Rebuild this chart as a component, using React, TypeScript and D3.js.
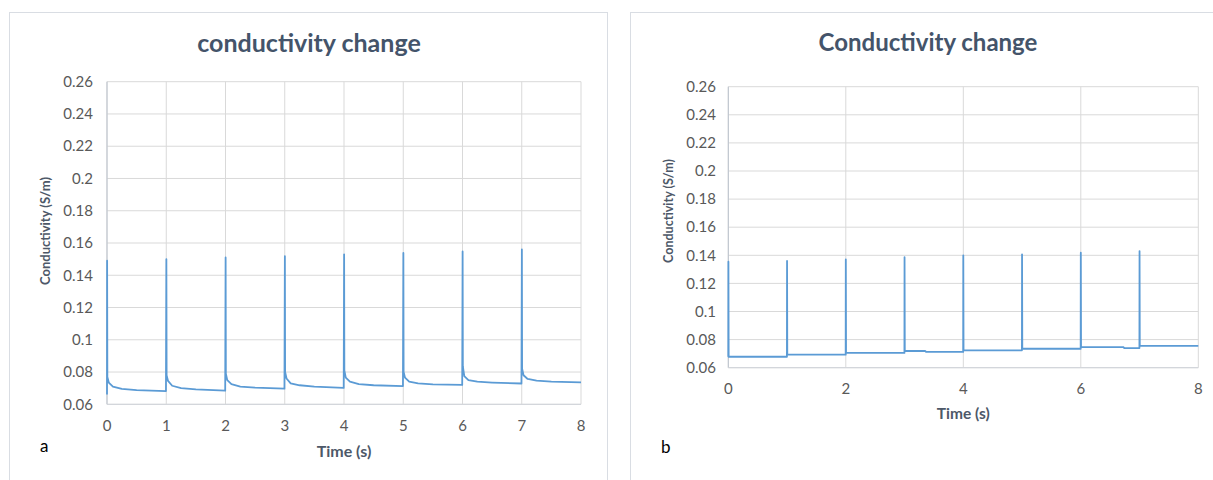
import React from "react";
import * as d3 from "d3";

// ---------- DATA ----------
// Panel a: spike times, peak values, and post-spike decay values
const spikeTimesA = [0, 1, 2, 3, 4, 5, 6, 7];
const peakValuesA = [0.149, 0.150, 0.151, 0.1518, 0.153, 0.1538, 0.1548, 0.156];
const startValueA = 0.066;
// offsets (s) after each spike at which decay values were read
const decayOffsetsA = [0.006, 0.03, 0.1, 0.25, 0.5, 0.995];
const decayValuesA = [
  [0.077, 0.0735, 0.071, 0.0695, 0.0688, 0.0682],
  [0.078, 0.0745, 0.0715, 0.07, 0.0693, 0.0685],
  [0.079, 0.075, 0.0725, 0.071, 0.0703, 0.0697],
  [0.08, 0.076, 0.073, 0.0718, 0.071, 0.0702],
  [0.081, 0.0765, 0.074, 0.0725, 0.0718, 0.0713],
  [0.08, 0.0765, 0.074, 0.073, 0.0724, 0.072],
  [0.0835, 0.0775, 0.075, 0.074, 0.0735, 0.0729],
  [0.082, 0.078, 0.0757, 0.0747, 0.0741, 0.0736],
];

// Panel b: step-like signal, explicit points [time, value]
const seriesB: [number, number][] = [
  [0, 0.0678], [0.002, 0.1354], [0.006, 0.0678],
  [0.998, 0.0678], [1.0, 0.136], [1.004, 0.0693],
  [1.998, 0.0693], [2.0, 0.137], [2.004, 0.0705],
  [2.998, 0.0705], [3.0, 0.1386], [3.004, 0.0719], [3.35, 0.0719], [3.37, 0.0712],
  [3.998, 0.0712], [4.0, 0.14], [4.004, 0.0724],
  [4.998, 0.0724], [5.0, 0.1407], [5.004, 0.0735],
  [5.998, 0.0735], [6.0, 0.1419], [6.004, 0.0747], [6.72, 0.0747], [6.74, 0.074],
  [6.998, 0.074], [7.0, 0.143], [7.004, 0.0755],
  [8.0, 0.0755],
];

const yTicks = [0.06, 0.08, 0.1, 0.12, 0.14, 0.16, 0.18, 0.2, 0.22, 0.24, 0.26];
const yTickLabels = ["0.06", "0.08", "0.1", "0.12", "0.14", "0.16", "0.18", "0.2", "0.22", "0.24", "0.26"];
const xTicksA = [0, 1, 2, 3, 4, 5, 6, 7, 8];
const xTicksB = [0, 2, 4, 6, 8];

const titleA = "conductivity change";
const titleB = "Conductivity change";
const yTitle = "Conductivity (S/m)";
const xTitle = "Time (s)";

// build panel-a points from the arrays
const seriesA: [number, number][] = [];
seriesA.push([0, startValueA]);
spikeTimesA.forEach((t, i) => {
  seriesA.push([t + 0.002, peakValuesA[i]]);
  decayOffsetsA.forEach((o, j) => {
    const off = i === spikeTimesA.length - 1 && j === decayOffsetsA.length - 1 ? 1.0 : o;
    seriesA.push([t + off, decayValuesA[i][j]]);
  });
});

const FONT = "Lato, 'Open Sans', sans-serif";
const LINE = "#5B9BD5";
const GRID = "#d9d9d9";
const TICK = "#595959";
const TITLE = "#44546a";

type PanelProps = {
  x0: number; x1: number; yTop: number; yBot: number;
  xTicks: number[]; data: [number, number][];
  title: string; titleX: number; titleY: number; titleSize: number;
  yTitleX: number; yTitleY: number; yTitleSize: number; xTitleY: number; xTitleSize: number;
  yLabelX: number; xLabelY: number;
};

function Panel(p: PanelProps) {
  const x = d3.scaleLinear().domain([0, 8]).range([p.x0, p.x1]);
  const y = d3.scaleLinear().domain([0.06, 0.26]).range([p.yBot, p.yTop]);
  const line = d3.line<[number, number]>().x(d => x(d[0])).y(d => y(d[1]));
  return (
    <g>
      {yTicks.map((v, i) => (
        <line key={"h" + i} x1={p.x0} x2={p.x1} y1={y(v)} y2={y(v)} stroke={GRID} strokeWidth={1} />
      ))}
      {p.xTicks.map((v, i) => (
        <line key={"v" + i} x1={x(v)} x2={x(v)} y1={p.yTop} y2={p.yBot} stroke={GRID} strokeWidth={1} />
      ))}
      <line x1={p.x0} x2={p.x0} y1={p.yTop} y2={p.yBot} stroke="#bcc3cd" strokeWidth={1} />
      <line x1={p.x0} x2={p.x1} y1={p.yBot} y2={p.yBot} stroke="#d0d4da" strokeWidth={1} />
      {yTicks.map((v, i) => (
        <text key={"yl" + i} x={p.yLabelX} y={y(v)} dy="0.35em" textAnchor="end" fontSize={15} fill={TICK} fontFamily={FONT}>
          {yTickLabels[i]}
        </text>
      ))}
      {p.xTicks.map((v, i) => (
        <text key={"xl" + i} x={x(v)} y={p.xLabelY} textAnchor="middle" fontSize={15} fill={TICK} fontFamily={FONT}>
          {String(v)}
        </text>
      ))}
      <path d={line(p.data) || ""} fill="none" stroke={LINE} strokeWidth={1.8} strokeLinejoin="round" />
      <text x={p.titleX} y={p.titleY} textAnchor="middle" fontSize={p.titleSize} fontWeight="bold" fill={TITLE} fontFamily={FONT}>
        {p.title}
      </text>
      <text transform={`translate(${p.yTitleX},${p.yTitleY}) rotate(-90)`} textAnchor="middle" fontSize={p.yTitleSize} fontWeight="bold" fill="#4d5868" fontFamily={FONT}>
        {yTitle}
      </text>
      <text x={(p.x0 + p.x1) / 2} y={p.xTitleY} textAnchor="middle" fontSize={p.xTitleSize} fontWeight="bold" fill="#4d5868" fontFamily={FONT}>
        {xTitle}
      </text>
    </g>
  );
}

export default function App() {
  return (
    <svg width={1213} height={480} style={{ position: "absolute", left: 0, top: 0, background: "#fff" }}>
      <rect x={0} y={0} width={1213} height={480} fill="#fff" />
      <rect x={9.5} y={12.5} width={598} height={480} fill="#fff" stroke="#d9dde3" strokeWidth={1} />
      <rect x={630.5} y={12.5} width={600} height={480} fill="#fff" stroke="#d9dde3" strokeWidth={1} />
      <Panel x0={107} x1={581} yTop={81.7} yBot={404.3} xTicks={xTicksA} data={seriesA}
        title={titleA} titleX={309} titleY={52} titleSize={25}
        yTitleX={50} yTitleY={231} yTitleSize={13} xTitleY={457} xTitleSize={16} yLabelX={93} xLabelY={431} />
      <Panel x0={728.3} x1={1198.3} yTop={86.7} yBot={367.7} xTicks={xTicksB} data={seriesB}
        title={titleB} titleX={928} titleY={51} titleSize={24}
        yTitleX={673} yTitleY={211} yTitleSize={12.5} xTitleY={419} xTitleSize={15.5} yLabelX={716} xLabelY={394} />
      <text x={40} y={452} fontSize={17} fill="#000" fontFamily={FONT}>a</text>
      <text x={661} y={453} fontSize={17} fill="#000" fontFamily={FONT}>b</text>
    </svg>
  );
}
